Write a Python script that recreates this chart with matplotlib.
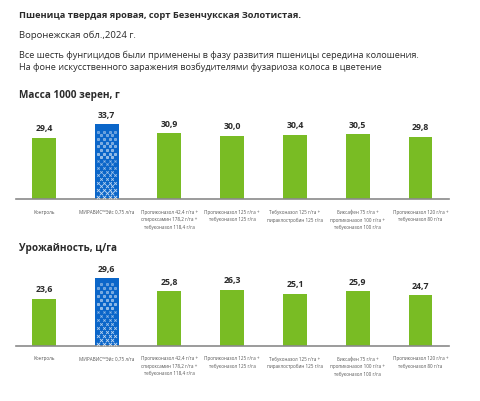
#!/usr/bin/env python3
"""Wheat fungicide trial: 1000-grain mass and yield bars."""

import matplotlib.pyplot as plt
import numpy as np

plt.rcParams["font.family"] = ["Open Sans", "DejaVu Sans"]

categories = [
    "Контроль",
    "МИРАВИС™Эйс 0,75 л/га",
    "Пропиконазол 42,4 г/га +\nспироксамин 178,2 г/га +\nтебуконазол 118,4 г/га",
    "Пропиконазол 125 г/га +\nтебуконазол 125 г/га",
    "Тебуконазол 125 г/га +\nпираклостробин 125 г/га",
    "Биксафен 75 г/га +\nпропиконазол 100 г/га +\nтебуконазол 100 г/га",
    "Пропиконазол 120 г/га +\nтебуконазол 80 г/га",
]
mass_1000 = [29.4, 33.7, 30.9, 30.0, 30.4, 30.5, 29.8]
yield_cha = [23.6, 29.6, 25.8, 26.3, 25.1, 25.9, 24.7]
highlight = 1

GREEN = "#79bc24"
BLUE = "#0b66c9"
TEXT = "#2b2b2b"

fig = plt.figure(figsize=(4.8, 4.02), dpi=100)
fig.patch.set_facecolor("white")

fig.text(0.04, 0.962, "Пшеница твердая яровая, сорт Безенчукская Золотистая.",
         fontsize=6.7, fontweight="bold", color=TEXT, va="center")
fig.text(0.04, 0.913, "Воронежская обл.,2024 г.", fontsize=6.8, color=TEXT, va="center")
fig.text(0.04, 0.862, "Все шесть фунгицидов были применены в фазу развития пшеницы середина колошения.",
         fontsize=6.6, color=TEXT, va="center")
fig.text(0.04, 0.832, "На фоне искусственного заражения возбудителями фузариоза колоса в цветение",
         fontsize=6.6, color=TEXT, va="center")


def draw_panel(rect, values, ymax, title, title_y):
    ax = fig.add_axes(rect)
    x = np.arange(len(values))
    colors = [BLUE if i == highlight else GREEN for i in x]
    width = 0.38
    ax.bar(x, values, width=width, color=colors, bottom=0)
    ax.set_xlim(-0.446, 6.45)
    ax.set_ylim(10, ymax)

    # dotted pattern on the highlighted bar, dots growing toward the base
    v = values[highlight]
    ys = np.arange(10.6, v - 1.5, 1.15)
    for j, yv in enumerate(ys):
        frac = 1 - (yv - 10) / (v - 10)
        xs = highlight + np.linspace(-width / 2 + 0.05, width / 2 - 0.05, 4)
        if j % 2:
            xs = (xs[:-1] + xs[1:]) / 2
        ax.scatter(xs, np.full_like(xs, yv), s=1 + 5 * frac ** 2, marker="x" if frac > 0.45 else "s",
                   color="white", linewidths=0.6, alpha=0.3 + 0.5 * frac, zorder=3)

    for xi, val in zip(x, values):
        ax.annotate(f"{val:.1f}".replace(".", ","), (xi, val), xytext=(0, 4),
                    textcoords="offset points", ha="center", va="bottom",
                    fontsize=6.3, fontweight="bold", color=TEXT)

    ax.set_xticks(x)
    ax.set_xticklabels(categories, fontsize=3.3, color="#555555", linespacing=1.6, va="top")
    ax.tick_params(axis="x", length=0, pad=7)
    ax.set_yticks([])
    for side in ["top", "right", "left"]:
        ax.spines[side].set_visible(False)
    ax.spines["bottom"].set_color("#8a8a8a")
    ax.spines["bottom"].set_linewidth(1.2)
    ax.set_facecolor("none")
    fig.text(0.04, title_y, title, fontsize=7.2, fontweight="bold", color=TEXT, va="center")
    return ax


draw_panel([0.033, 0.5025, 0.902, 0.204], mass_1000, 36, "Масса 1000 зерен, г", 0.762)
draw_panel([0.033, 0.1376, 0.902, 0.188], yield_cha, 32, "Урожайность, ц/га", 0.383)

fig.savefig("out.png", dpi=100)
